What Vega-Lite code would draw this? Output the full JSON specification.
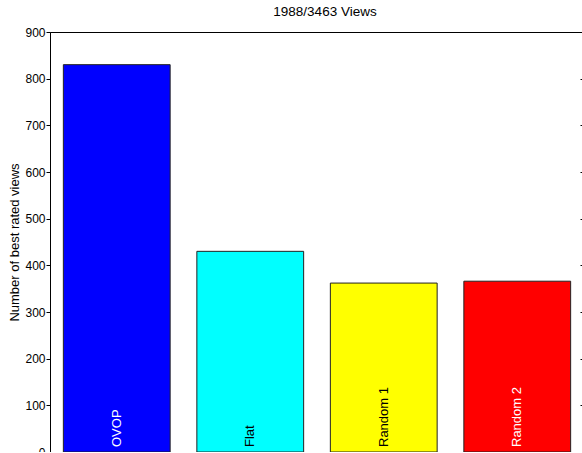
{
  "$schema": "https://vega.github.io/schema/vega-lite/v6.json",
  "width": 534,
  "height": 420,
  "autosize": {"type": "none"},
  "padding": {"left": 50, "top": 32, "right": 0, "bottom": 0},
  "background": "white",
  "config": {
    "font": "Liberation Sans",
    "view": {"stroke": "black", "strokeWidth": 1}
  },
  "title": {
    "text": "1988/3463 Views",
    "fontSize": 13.5,
    "fontWeight": "normal",
    "color": "black",
    "offset": 8,
    "dx": 8,
    "anchor": "middle"
  },
  "data": {
    "values": [
      {"method": "OVOP", "views": 830, "color": "#0000ff", "textColor": "white"},
      {"method": "Flat", "views": 430, "color": "#00ffff", "textColor": "black"},
      {"method": "Random 1", "views": 362, "color": "#ffff00", "textColor": "black"},
      {"method": "Random 2", "views": 366, "color": "#ff0000", "textColor": "white"}
    ]
  },
  "encoding": {
    "x": {
      "field": "method",
      "type": "nominal",
      "sort": null,
      "scale": {"paddingInner": 0.2, "paddingOuter": 0.1},
      "axis": {"labels": false, "ticks": false, "title": null, "domainColor": "black"}
    }
  },
  "layer": [
    {
      "mark": {"type": "bar", "stroke": "#222222", "strokeWidth": 1},
      "encoding": {
        "y": {
          "field": "views",
          "type": "quantitative",
          "scale": {"domain": [0, 900], "nice": false},
          "axis": {
            "values": [0, 100, 200, 300, 400, 500, 600, 700, 800, 900],
            "grid": false,
            "tickSize": 4,
            "tickColor": "black",
            "domainColor": "black",
            "labelColor": "black",
            "labelFontSize": 12,
            "labelPadding": 1,
            "title": "Number of best rated views",
            "titleFontSize": 13,
            "titleFontWeight": "normal",
            "titleColor": "black",
            "titlePadding": 3
          }
        },
        "color": {"field": "color", "type": "nominal", "scale": null}
      }
    },
    {
      "mark": {"type": "text", "angle": 270, "align": "left", "baseline": "middle", "dx": 5, "fontSize": 13},
      "encoding": {
        "text": {"field": "method"},
        "y": {
          "datum": 0,
          "type": "quantitative",
          "axis": {
            "orient": "right",
            "values": [0, 100, 200, 300, 400, 500, 600, 700, 800, 900],
            "grid": false,
            "labels": false,
            "domain": false,
            "tickSize": -4,
            "tickColor": "black",
            "title": null
          }
        },
        "color": {"field": "textColor", "type": "nominal", "scale": null}
      }
    }
  ],
  "resolve": {"axis": {"y": "independent"}}
}
